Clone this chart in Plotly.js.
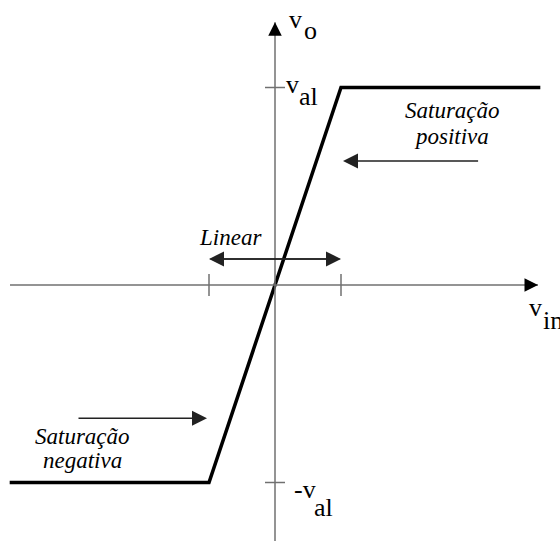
<!DOCTYPE html>
<html>
<head>
<meta charset="utf-8">
<script src="https://cdn.plot.ly/plotly-3.0.1.min.js"></script>
<style>
html,body{margin:0;padding:0;background:#fff;overflow:hidden;}
#chart{width:560px;height:543px;}
</style>
</head>
<body>
<div id="chart"></div>
<script>
// Transfer characteristic (normalised units: v_al = 1, linear limit = 1)
const vin = [-4.02, -1, 1, 4.02];
const vo  = [-1, -1, 1, 1];
const xTicks = [-1, 1];
const yTicks = [-1, 1];
const axisX = [-4.015, 3.985];   // horizontal axis extent
const axisY = [-1.296, 1.33];    // vertical axis extent
const linearArrow = {x0: -1, x1: 1, y: 0.132};
const posArrow = {from: [3.1, 0.628], to: [1.03, 0.628]};
const negArrow = {from: [-3.0, -0.675], to: [-1.03, -0.675]};

// pixel helpers for label placement only
const X = p => (p - 275) / 66;
const Y = p => (285 - p) / 197.5;

const serifFam = 'Liberation Serif, DejaVu Serif, serif';
const italic = (t, xp, yp) => ({text: t, x: X(xp), y: Y(yp), xref: 'x', yref: 'y',
  showarrow: false, xanchor: 'center', yanchor: 'middle', font: {family: serifFam, size: 23, color: '#000', style: 'italic'}});
const lab = (t, xp, yp) => ({text: t, x: X(xp), y: Y(yp), xref: 'x', yref: 'y',
  showarrow: false, xanchor: 'left', yanchor: 'middle', font: {family: serifFam, size: 26, color: '#000'}});

const head = (x, y, ax, ay) => ({x: x, y: y, xref: 'x', yref: 'y', ax: ax, ay: ay, text: '',
  showarrow: true, arrowhead: 2, arrowsize: 1.8, arrowwidth: 1.5, arrowcolor: '#000'});
const arrow = (from, to) => ({x: to[0], y: to[1], ax: from[0], ay: from[1], xref: 'x', yref: 'y',
  axref: 'x', ayref: 'y', text: '', showarrow: true, arrowhead: 2, arrowsize: 2, arrowwidth: 1.5, arrowcolor: '#222'});

const shapes = [
  {type: 'line', xref: 'x', yref: 'y', x0: axisX[0], x1: axisX[1], y0: 0, y1: 0, line: {color: '#707070', width: 1.5}},
  {type: 'line', xref: 'x', yref: 'y', x0: 0, x1: 0, y0: axisY[0], y1: axisY[1], line: {color: '#707070', width: 1.5}}
];
xTicks.forEach(t => shapes.push({type: 'line', xref: 'x', yref: 'y', ysizemode: 'pixel', yanchor: 0,
  x0: t, x1: t, y0: -11, y1: 11, line: {color: '#707070', width: 1.5}}));
yTicks.forEach(t => shapes.push({type: 'line', xref: 'x', yref: 'y', xsizemode: 'pixel', xanchor: 0,
  x0: -10, x1: 10, y0: t, y1: t, line: {color: '#707070', width: 1.5}}));

const annotations = [
  head(axisX[1], 0, -14, 0),
  head(0, axisY[1], 0, 14),
  arrow([linearArrow.x0, linearArrow.y], [linearArrow.x1, linearArrow.y]),
  arrow([linearArrow.x1, linearArrow.y], [linearArrow.x0, linearArrow.y]),
  arrow(posArrow.from, posArrow.to),
  arrow(negArrow.from, negArrow.to),
  italic('Linear', 230, 237),
  italic('Saturação', 452, 110),
  italic('positiva', 451, 136),
  italic('Saturação', 82, 436),
  italic('negativa', 82, 460),
  lab('v', 287, 19),
  lab('o', 302, 30),
  lab('v', 284, 84),
  lab('al', 297, 96),
  lab('-v', 292, 489),
  lab('al', 312, 507),
  lab('v', 527, 307),
  lab('in', 541, 320)
];

const data = [{x: vin, y: vo, type: 'scatter', mode: 'lines', line: {color: '#000', width: 3.5}, hoverinfo: 'skip'}];

const layout = {
  width: 560, height: 543, margin: {l: 0, r: 0, t: 0, b: 0},
  paper_bgcolor: '#fff', plot_bgcolor: '#fff', showlegend: false,
  font: {family: serifFam},
  xaxis: {range: [X(0), X(560)], visible: false, showgrid: false, zeroline: false, fixedrange: true},
  yaxis: {range: [Y(543), Y(0)], visible: false, showgrid: false, zeroline: false, fixedrange: true},
  shapes: shapes, annotations: annotations
};
Plotly.newPlot('chart', data, layout, {displayModeBar: false, staticPlot: true});
</script>
</body>
</html>
